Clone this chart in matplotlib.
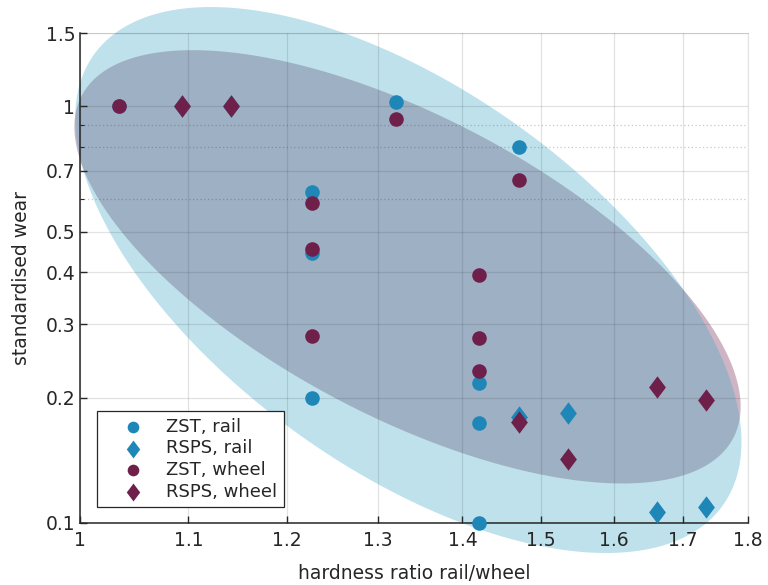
import numpy as np
import matplotlib
matplotlib.use('Agg')
import matplotlib.pyplot as plt
from matplotlib.path import Path
from matplotlib.ticker import FixedLocator, NullFormatter

# données
zst_rail_x = [1.035, 1.226, 1.226, 1.226, 1.32, 1.472, 1.42, 1.42, 1.42]
zst_rail_y = [1.0, 0.623, 0.445, 0.2, 1.024, 0.799, 0.217, 0.174, 0.1]
rsps_rail_x = [1.094, 1.142, 1.472, 1.536, 1.662, 1.735]
rsps_rail_y = [1.0, 1.0, 0.18, 0.184, 0.106, 0.109]

zst_wheel_x = [1.035, 1.226, 1.226, 1.226, 1.32, 1.472, 1.42, 1.42, 1.42]
zst_wheel_y = [1.0, 0.586, 0.455, 0.281, 0.933, 0.666, 0.394, 0.278, 0.232]
rsps_wheel_x = [1.094, 1.142, 1.472, 1.536, 1.662, 1.735]
rsps_wheel_y = [1.0, 1.0, 0.175, 0.1425, 0.212, 0.197]

# ellipses (espace log10) : centre, écarts, corrélation
ell_rail = dict(cx=1.335, cy=0.383, sx=0.1273, sy=0.6552, r=-0.593)
ell_wheel = dict(cx=1.334, cy=0.412, sx=0.1273, sy=0.52, r=-0.645)

x_ticks = [1, 1.1, 1.2, 1.3, 1.4, 1.5, 1.6, 1.7, 1.8]
x_labels = ['1', '1.1', '1.2', '1.3', '1.4', '1.5', '1.6', '1.7', '1.8']
y_ticks = [0.1, 0.2, 0.3, 0.4, 0.5, 0.7, 1, 1.5]
y_labels = ['0.1', '0.2', '0.3', '0.4', '0.5', '0.7', '1', '1.5']
y_minor = [0.6, 0.8, 0.9]

blue = '#1f86b8'
purple = '#6e204b'
txt = '#262626'

diamond = Path([(0, 1), (0.75, 0), (0, -1), (-0.75, 0), (0, 1)],
               [Path.MOVETO, Path.LINETO, Path.LINETO, Path.LINETO, Path.CLOSEPOLY])


def ellipse_pts(e, n=300):
    t = np.linspace(0, 2 * np.pi, n)
    lx = np.log10(e['cx']) + e['sx'] * np.cos(t)
    ly = np.log10(e['cy']) + e['r'] * e['sy'] * np.cos(t) + e['sy'] * np.sqrt(1 - e['r'] ** 2) * np.sin(t)
    return 10 ** lx, 10 ** ly


fig = plt.figure(figsize=(7.68, 5.85), dpi=100)
ax = fig.add_axes([80 / 768, 1 - 523 / 585, 668 / 768, 490 / 585])
ax.set_xscale('log')
ax.set_yscale('log')

# ellipses
ex, ey = ellipse_pts(ell_wheel)
ax.fill(ex, ey, color=purple, alpha=0.33, lw=0, clip_on=False, zorder=1)
ex, ey = ellipse_pts(ell_rail)
ax.fill(ex, ey, color='#45a9c6', alpha=0.35, lw=0, clip_on=False, zorder=1.1)

# points
ax.scatter(zst_rail_x, zst_rail_y, s=110, marker='o', color=blue, lw=0, zorder=4, label='ZST, rail', clip_on=False)
ax.scatter(rsps_rail_x, rsps_rail_y, s=260, marker=diamond, color=blue, lw=0, zorder=4, label='RSPS, rail', clip_on=False)
ax.scatter(zst_wheel_x, zst_wheel_y, s=110, marker='o', color=purple, lw=0, zorder=5, label='ZST, wheel')
ax.scatter(rsps_wheel_x, rsps_wheel_y, s=260, marker=diamond, color=purple, lw=0, zorder=5, label='RSPS, wheel')

ax.set_xlim(1, 1.8)
ax.set_ylim(0.1, 1.5)
ax.xaxis.set_major_locator(FixedLocator(x_ticks))
ax.set_xticklabels(x_labels)
ax.xaxis.set_minor_locator(FixedLocator([]))
ax.yaxis.set_major_locator(FixedLocator(y_ticks))
ax.set_yticklabels(y_labels)
ax.yaxis.set_minor_locator(FixedLocator(y_minor))
ax.yaxis.set_minor_formatter(NullFormatter())

ax.set_axisbelow(False)
ax.grid(True, which='major', color=txt, alpha=0.13, lw=0.9)
ax.grid(True, which='minor', axis='y', color=txt, alpha=0.25, lw=0.9, ls=(0, (1, 2)))

ax.tick_params(which='both', direction='in', colors=txt, labelsize=13.5, top=False, right=False)
ax.tick_params(which='major', length=5, width=1)
ax.tick_params(axis='x', pad=6)
ax.tick_params(which='minor', length=3, width=0.8)
for s in ['left', 'bottom']:
    ax.spines[s].set_color(txt)
    ax.spines[s].set_linewidth(1.1)
for s in ['top', 'right']:
    ax.spines[s].set_color((0.15, 0.15, 0.15, 0.13))

ax.set_xlabel('hardness ratio rail/wheel', fontsize=13.5, color=txt, labelpad=10)
ax.set_ylabel('standardised wear', fontsize=13.5, color=txt, labelpad=10)

leg = ax.legend(loc='lower left', bbox_to_anchor=(0.025, 0.033), borderaxespad=0,
                fontsize=13, labelspacing=0.2, handlelength=3.3, handletextpad=0.2,
                borderpad=0.35, fancybox=False, framealpha=1, edgecolor=txt,
                markerscale=0.8)
leg.get_frame().set_linewidth(0.9)
leg.set_zorder(6)
for t in leg.get_texts():
    t.set_color(txt)

plt.savefig('out.png', dpi=100)
